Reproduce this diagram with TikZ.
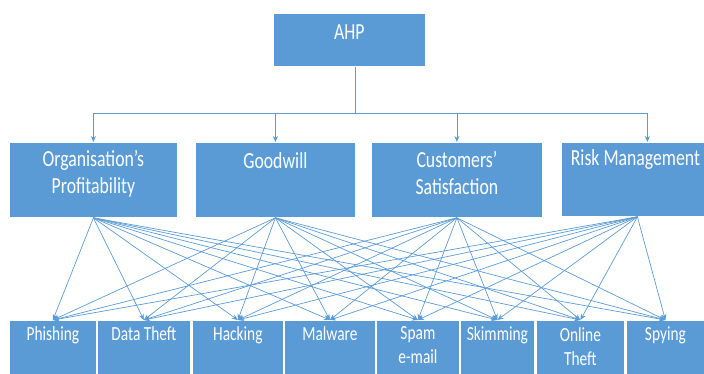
\documentclass[tikz,border=0pt]{standalone}
\usepackage{fontspec}
\setmainfont{Carlito}[FakeStretch=0.77]
\usetikzlibrary{arrows.meta}
\definecolor{ahpblue}{HTML}{5B9BD5}
\definecolor{ahpline}{HTML}{5B9BD5}

\begin{document}
\begin{tikzpicture}[
    x=1pt, y=-1pt,
    box/.style={draw=white, line width=0.8pt, fill=ahpblue,
                anchor=north west, inner sep=0pt},
    head/.style={font=\fontsize{23}{27}\selectfont, text=white,
                 align=center, inner sep=0pt, anchor=north},
    leaf/.style={font=\fontsize{20}{24}\selectfont, text=white,
                 align=center, inner sep=0pt, anchor=north},
    arr/.style={-{Stealth[length=6pt, width=5pt]}, ahpline, line width=0.7pt},
  ]
  \useasboundingbox (0,0) rectangle (704,373);

  % Goal
  \node[box, minimum width=152pt, minimum height=53pt,
        label={[head, yshift=-12pt]north:AHP}] (ahp) at (273,13) {};

  % Criteria
  \node[box, minimum width=168pt, minimum height=75pt,
        label={[head, yshift=-8pt]north:Organisation's\\Profitability}] (org) at (9,142) {};
  \node[box, minimum width=160pt, minimum height=75pt,
        label={[head, yshift=-10pt]north:Goodwill}] (good) at (195,142) {};
  \node[box, minimum width=171pt, minimum height=75pt,
        label={[head, yshift=-9pt]north:Customers'\\Satisfaction}] (cust) at (371,142) {};
  \node[box, minimum width=152pt, minimum height=74pt,
        label={[head, yshift=-7pt, xshift=-2pt]north:Risk Management}] (risk) at (561,142) {};

  % Alternatives
  \node[box, minimum width=87pt, minimum height=60pt,
        label={[leaf, yshift=-6pt]north:Phishing}] (phish) at (9,320) {};
  \node[box, minimum width=93pt, minimum height=60pt,
        label={[leaf, yshift=-6pt]north:Data Theft}] (theft) at (97,320) {};
  \node[box, minimum width=91pt, minimum height=60pt,
        label={[leaf, yshift=-6pt]north:Hacking}] (hack) at (192,320) {};
  \node[box, minimum width=91pt, minimum height=60pt,
        label={[leaf, yshift=-6pt]north:Malware}] (malw) at (284,320) {};
  \node[box, minimum width=83pt, minimum height=60pt,
        label={[leaf, yshift=-6pt]north:Spam\\e-mail}] (spam) at (376,320) {};
  \node[box, minimum width=74pt, minimum height=60pt,
        label={[leaf, yshift=-6pt]north:Skimming}] (skim) at (460,320) {};
  \node[box, minimum width=88pt, minimum height=60pt,
        label={[leaf, yshift=-7pt]north:Online\\Theft}] (online) at (536,320) {};
  \node[box, minimum width=78pt, minimum height=60pt,
        label={[leaf, yshift=-7pt]north:Spying}] (spy) at (626,320) {};

  % Goal -> criteria
  \coordinate (bus) at (355,113);
  \draw[ahpline, line width=0.7pt] (ahp.south -| bus) -- (bus);
  \draw[ahpline, line width=0.7pt] (org.north |- bus) -- ([xshift=10pt]risk.north |- bus);
  \foreach \c in {org, good, cust}
    \draw[arr] (\c.north |- bus) -- (\c.north);
  \draw[arr] ([xshift=10pt]risk.north |- bus) -- ([xshift=10pt]risk.north);

  % Criteria -> alternatives
  \foreach \c in {org, good, cust, risk}
    \foreach \a in {phish, theft, hack, malw, spam, skim, online, spy}
      \draw[arr] (\c.south) -- (\a.north);
\end{tikzpicture}
\end{document}
